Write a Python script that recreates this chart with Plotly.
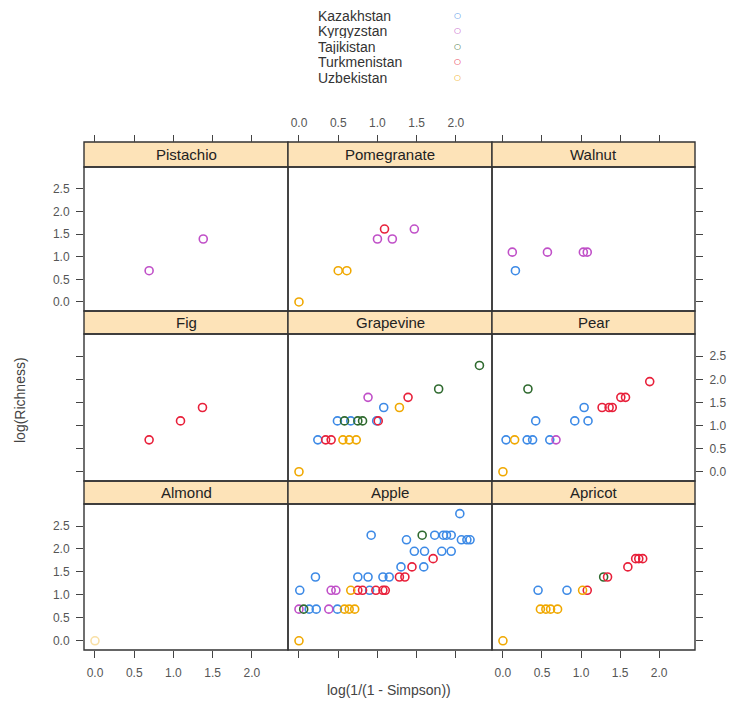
import plotly.graph_objects as go

# ---------------- data ----------------
countries = ["Kazakhstan", "Kyrgyzstan", "Tajikistan", "Turkmenistan", "Uzbekistan"]
country_codes = ["KAZ", "KYR", "TAJ", "TUR", "UZB"]
country_colors = ["#3d8ae6", "#c050c8", "#2f6a2f", "#e8203a", "#f0a800"]

panel_names = ["Pistachio", "Pomegranate", "Walnut",
               "Fig", "Grapevine", "Pear",
               "Almond", "Apple", "Apricot"]

x_ticks = [0.0, 0.5, 1.0, 1.5, 2.0]
y_ticks = [0.0, 0.5, 1.0, 1.5, 2.0, 2.5]

pistachio_x = [0.69, 1.38]
pistachio_y = [0.69, 1.39]
pistachio_c = ["KYR", "KYR"]

pomegranate_x = [0.00, 0.50, 0.61, 1.00, 1.19, 1.09, 1.47]
pomegranate_y = [0.00, 0.69, 0.69, 1.39, 1.39, 1.61, 1.61]
pomegranate_c = ["UZB", "UZB", "UZB", "KYR", "KYR", "TUR", "KYR"]

walnut_x = [0.12, 0.16, 0.57, 1.03, 1.08]
walnut_y = [1.10, 0.69, 1.10, 1.10, 1.10]
walnut_c = ["KYR", "KAZ", "KYR", "KYR", "KYR"]

fig_x = [0.69, 1.09, 1.37]
fig_y = [0.69, 1.10, 1.39]
fig_c = ["TUR", "TUR", "TUR"]

grapevine_x = [0.00, 0.24, 0.34, 0.41, 0.56, 0.64, 0.73,
               0.49, 0.58, 0.66, 0.75, 0.81, 0.99, 1.01,
               1.08, 1.28, 0.88, 1.39, 1.78, 2.30]
grapevine_y = [0.00, 0.69, 0.69, 0.69, 0.69, 0.69, 0.69,
               1.10, 1.10, 1.10, 1.10, 1.10, 1.10, 1.10,
               1.39, 1.39, 1.61, 1.61, 1.79, 2.30]
grapevine_c = ["UZB", "KAZ", "TUR", "TUR", "UZB", "UZB", "UZB",
               "KAZ", "TAJ", "KAZ", "TAJ", "TAJ", "KAZ", "TUR",
               "KAZ", "UZB", "KYR", "TUR", "TAJ", "TAJ"]

pear_x = [0.00, 0.04, 0.15, 0.31, 0.38, 0.60, 0.68,
          0.42, 0.92, 1.09, 1.04, 1.27, 1.36, 1.40,
          1.51, 1.57, 0.32, 1.88]
pear_y = [0.00, 0.69, 0.69, 0.69, 0.69, 0.69, 0.69,
          1.10, 1.10, 1.10, 1.39, 1.39, 1.39, 1.39,
          1.61, 1.61, 1.79, 1.95]
pear_c = ["UZB", "KAZ", "UZB", "KAZ", "KAZ", "KAZ", "KYR",
          "KAZ", "KAZ", "KAZ", "KAZ", "TUR", "TUR", "TUR",
          "TUR", "TUR", "TAJ", "TUR"]

almond_x = [0.00]
almond_y = [0.00]
almond_c = ["UZB"]

apple_x = [0.00, 0.00, 0.06, 0.13, 0.22, 0.38, 0.49, 0.58, 0.64, 0.71,
           0.01, 0.41, 0.47, 0.66, 0.75, 0.81, 0.90, 0.98, 1.07, 1.10,
           0.21, 0.75, 0.88, 1.07, 1.15, 1.28, 1.35,
           1.30, 1.44, 1.59, 1.71,
           1.47, 1.60, 1.82, 1.94,
           1.37, 2.07, 2.14, 2.18,
           0.92, 1.57, 1.73, 1.84, 1.88, 1.94,
           2.05]
apple_y = [0.00, 0.69, 0.69, 0.69, 0.69, 0.69, 0.69, 0.69, 0.69, 0.69,
           1.10, 1.10, 1.10, 1.10, 1.10, 1.10, 1.10, 1.10, 1.10, 1.10,
           1.39, 1.39, 1.39, 1.39, 1.39, 1.39, 1.39,
           1.61, 1.61, 1.61, 1.79,
           1.95, 1.95, 1.95, 1.95,
           2.20, 2.20, 2.20, 2.20,
           2.30, 2.30, 2.30, 2.30, 2.30, 2.30,
           2.77]
apple_c = ["UZB", "KYR", "TAJ", "KAZ", "KAZ", "KYR", "KAZ", "UZB", "UZB", "UZB",
           "KAZ", "KYR", "KYR", "UZB", "TUR", "TUR", "KAZ", "TUR", "TUR", "TUR",
           "KAZ", "KAZ", "KAZ", "KAZ", "KAZ", "TUR", "TUR",
           "KAZ", "TUR", "KAZ", "TUR",
           "KAZ", "KAZ", "KAZ", "KAZ",
           "KAZ", "KAZ", "KAZ", "KAZ",
           "KAZ", "TAJ", "KAZ", "KAZ", "KAZ", "KAZ",
           "KAZ"]

apricot_x = [0.00, 0.48, 0.55, 0.61, 0.70,
             0.45, 0.82, 1.02, 1.08,
             1.29, 1.34, 1.60, 1.70, 1.74, 1.79]
apricot_y = [0.00, 0.69, 0.69, 0.69, 0.69,
             1.10, 1.10, 1.10, 1.10,
             1.39, 1.39, 1.61, 1.79, 1.79, 1.79]
apricot_c = ["UZB", "UZB", "UZB", "UZB", "UZB",
             "KAZ", "KAZ", "UZB", "TUR",
             "TAJ", "TUR", "TUR", "TUR", "TUR", "TUR"]

panel_data = [
    (pistachio_x, pistachio_y, pistachio_c),
    (pomegranate_x, pomegranate_y, pomegranate_c),
    (walnut_x, walnut_y, walnut_c),
    (fig_x, fig_y, fig_c),
    (grapevine_x, grapevine_y, grapevine_c),
    (pear_x, pear_y, pear_c),
    (almond_x, almond_y, almond_c),
    (apple_x, apple_y, apple_c),
    (apricot_x, apricot_y, apricot_c),
]

# ---------------- layout geometry (pixels) ----------------
W, H = 735, 717
col_edges = [84, 288, 492, 695]
strip_top = [142, 311, 481]
panel_top = [167, 334, 504]
panel_bottom = [311, 481, 650]
x_range = [-0.14, 2.46]
y_range = [-0.2, 2.98]

FONT = "Liberation Sans, Arial, sans-serif"
tick_font = dict(family=FONT, size=12, color="#555555")
line_col = "#333333"

fig = go.Figure()

for i, (xs, ys, cs) in enumerate(panel_data):
    sfx = "" if i == 0 else str(i + 1)
    for code, col in zip(country_codes, country_colors):
        px_ = [x for x, c in zip(xs, cs) if c == code]
        py_ = [y for y, c in zip(ys, cs) if c == code]
        if not px_:
            continue
        fig.add_trace(go.Scatter(
            x=px_, y=py_, mode="markers",
            xaxis="x" + sfx, yaxis="y" + sfx,
            marker=dict(symbol="circle-open", size=8, color=col,
                        line=dict(width=1.6, color=col)),
            opacity=0.35 if panel_names[i] == "Almond" else 1.0,
            showlegend=False, hoverinfo="skip"))

layout = dict(
    width=W, height=H,
    margin=dict(l=0, r=0, t=0, b=0),
    paper_bgcolor="white", plot_bgcolor="white",
    showlegend=False,
    font=dict(family=FONT),
)

shapes = []
annotations = []

for i in range(9):
    r, c = divmod(i, 3)
    sfx = "" if i == 0 else str(i + 1)
    xd = [col_edges[c] / W, col_edges[c + 1] / W]
    yd = [1 - panel_bottom[r] / H, 1 - panel_top[r] / H]
    xa = dict(domain=xd, range=x_range, showgrid=False, zeroline=False,
              showline=False, tickvals=x_ticks, tickformat=".1f",
              tickfont=tick_font, tickcolor="#444444", ticklen=7, tickwidth=1)
    if r == 0:
        xa.update(anchor="free", position=1 - strip_top[r] / H, side="top",
                  ticks="outside", showticklabels=(c == 1), ticklabelstandoff=3)
    elif r == 1:
        xa.update(anchor="y" + sfx, ticks="", showticklabels=False)
    else:
        xa.update(anchor="y" + sfx, side="bottom", ticks="outside",
                  showticklabels=(c in (0, 2)), ticklabelstandoff=5)
    ya = dict(domain=yd, range=y_range, showgrid=False, zeroline=False,
              showline=False, tickvals=y_ticks, tickformat=".1f",
              tickfont=tick_font, tickcolor="#444444", ticklen=7, tickwidth=1,
              anchor="x" + sfx)
    if c == 0:
        ya.update(side="left", ticks="outside", showticklabels=(r in (0, 2)),
                  ticklabelstandoff=4)
    elif c == 1:
        ya.update(ticks="", showticklabels=False)
    else:
        ya.update(side="right", ticks="outside", showticklabels=(r == 1),
                  ticklabelstandoff=4)
    layout["xaxis" + sfx] = xa
    layout["yaxis" + sfx] = ya

    # strip
    shapes.append(dict(type="rect", xref="paper", yref="paper",
                       x0=col_edges[c] / W, x1=col_edges[c + 1] / W,
                       y0=1 - panel_top[r] / H, y1=1 - strip_top[r] / H,
                       fillcolor="#fde3b8", line=dict(color=line_col, width=1.4),
                       layer="below"))
    # panel border
    shapes.append(dict(type="rect", xref="paper", yref="paper",
                       x0=col_edges[c] / W, x1=col_edges[c + 1] / W,
                       y0=1 - panel_bottom[r] / H, y1=1 - panel_top[r] / H,
                       line=dict(color=line_col, width=1.4), layer="above"))
    annotations.append(dict(
        text=panel_names[i], xref="paper", yref="paper",
        x=(col_edges[c] + col_edges[c + 1]) / 2 / W,
        y=1 - (strip_top[r] + panel_top[r]) / 2 / H,
        xanchor="center", yanchor="middle", showarrow=False,
        font=dict(family=FONT, size=15, color="#222222")))

# axis titles
annotations.append(dict(text="log(Richness)", xref="paper", yref="paper",
                        x=20 / W, y=1 - 400 / H, textangle=-90,
                        xanchor="center", yanchor="middle", showarrow=False,
                        font=dict(family=FONT, size=14, color="#444444")))
annotations.append(dict(text="log(1/(1 - Simpson))", xref="paper", yref="paper",
                        x=389 / W, y=1 - 690 / H,
                        xanchor="center", yanchor="middle", showarrow=False,
                        font=dict(family=FONT, size=14, color="#444444")))

# key (legend) at top
key_rows = [15, 30.5, 46, 61.5, 77]
for name, col, yy in zip(countries, country_colors, key_rows):
    annotations.append(dict(text=name, xref="paper", yref="paper",
                            x=316 / W, y=1 - yy / H,
                            xanchor="left", yanchor="middle", showarrow=False,
                            height=15, valign="middle",
                            font=dict(family=FONT, size=14, color="#333333")))
    annotations.append(dict(text="○", xref="paper", yref="paper",
                            x=458 / W, y=1 - yy / H,
                            xanchor="center", yanchor="middle", showarrow=False,
                            font=dict(family="DejaVu Sans", size=8, color=col)))

layout["shapes"] = shapes
layout["annotations"] = annotations
fig.update_layout(**layout)

fig.write_html("out.html")
